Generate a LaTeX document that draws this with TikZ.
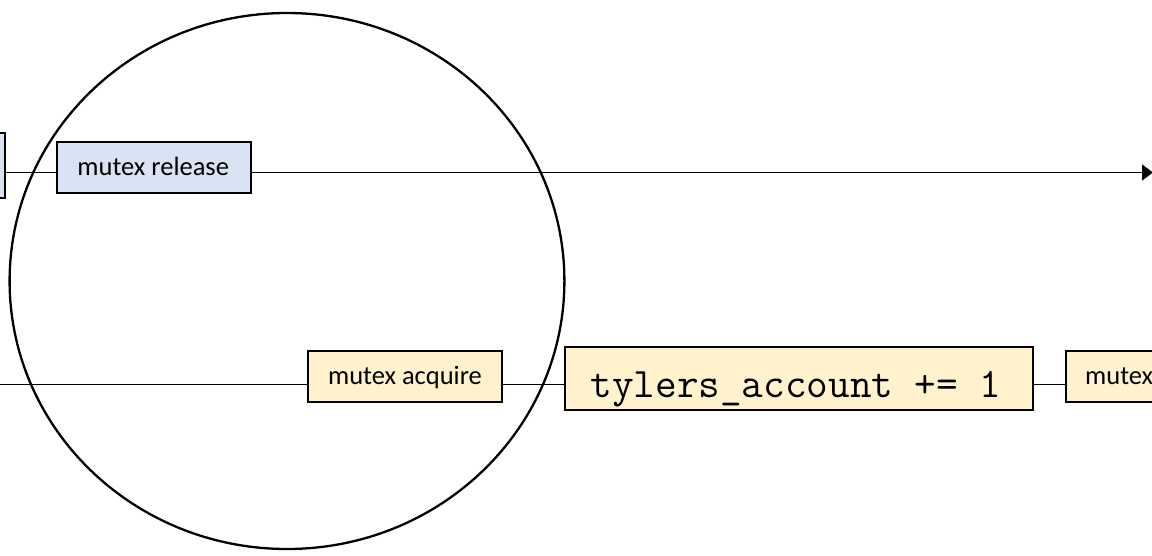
\documentclass[tikz,border=0pt]{standalone}
\usepackage{fontspec}
\setmainfont{Carlito}
\usetikzlibrary{arrows.meta}
\definecolor{relblue}{HTML}{DAE3F3}
\definecolor{acqyellow}{HTML}{FFF2CC}

\begin{document}
\begin{tikzpicture}[x=1pt,y=-1pt,
  box/.style={draw=black, line width=1.8pt, inner sep=0pt, outer sep=0pt},
  lockbox/.style={box, fill=acqyellow},
  unlockbox/.style={box, fill=relblue},
  opbox/.style={minimum width=194pt, minimum height=50.7pt},
  lbl/.style={font=\fontsize{26.5}{30}\selectfont, inner sep=0pt, anchor=base},
  code/.style={font=\ttfamily\fontsize{42}{46}\selectfont, inner sep=0pt, anchor=base},
  wire/.style={line width=1.2pt},
  ring/.style={line width=2.3pt},
]
\useasboundingbox (0,0) rectangle (1152,555);

% rows of the two threads
\coordinate (topy) at (0,172.5);
\coordinate (boty) at (0,384.5);
\coordinate (start) at (0,384.5);
\coordinate (tip) at (1153,172.5);

% thread 1 (top)
\node[unlockbox, minimum width=65.3pt, minimum height=65pt] (prev) at (-27.35,165.5) {};
\node[unlockbox, opbox] (rel) at (153.7,167.35) {};
\node[lbl] (reltxt) at (153.2,175) {mutex release};

% thread 2 (bottom)
\node[lockbox, opbox] (acq) at (405,376.35) {};
\node[lbl] (acqtxt) at (405,384) {mutex acquire};
\node[lockbox, minimum width=467.7pt, minimum height=63pt] (acc) at (798.85,378.5) {};
\node[code] (acctxt) at (796,397) {tylers\_account += 1};
\node[lockbox, opbox] (rel2) at (1163,376.35) {};
\node[lbl, anchor=base west] (rel2txt) at (1085,384) {mutex};

% connectors
\draw[wire] (prev.east |- topy) -- (rel.west |- topy);
\draw[wire, -{Triangle[length=11pt, width=16pt]}] (rel.east |- topy) -- (tip);
\draw[wire] (start) -- (acq.west |- boty);
\draw[wire] (acq.east |- boty) -- (acc.west |- boty);
\draw[wire] (acc.east |- boty) -- (rel2.west |- boty);

% highlighted region
\draw[ring] (287,281) ellipse [x radius=277.4pt, y radius=268pt];
\end{tikzpicture}
\end{document}
